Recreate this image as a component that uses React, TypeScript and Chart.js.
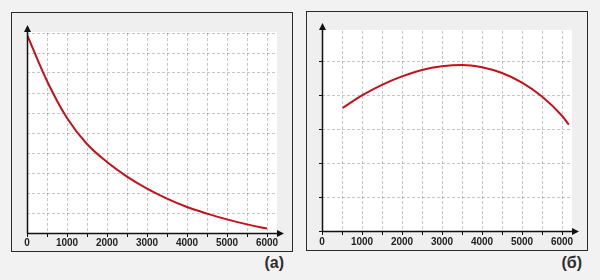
import React, { useEffect, useRef } from "react";
import { Chart, registerables } from "chart.js";

Chart.register(...registerables);

// ---- data ----
const X_MIN = 0;
const X_MAX = 6250;
const xTickValues = [0, 500, 1000, 1500, 2000, 2500, 3000, 3500, 4000, 4500, 5000, 5500, 6000];
const xTickLabels = ["0", "1000", "2000", "3000", "4000", "5000", "6000"];

const leftX = [0, 500, 1000, 1500, 2000, 2500, 3000, 3500, 4000, 4500, 5000, 5500, 6000];
const leftY = [9.92, 7.6, 5.75, 4.45, 3.55, 2.82, 2.22, 1.72, 1.3, 0.97, 0.68, 0.43, 0.22];
const leftYMax = 10;
const leftYTicks = [0, 1, 2, 3, 4, 5, 6, 7, 8, 9, 10];

const rightX = [520, 1000, 1500, 2000, 2500, 3000, 3500, 4000, 4500, 5000, 5500, 6000, 6170];
const rightY = [3.63, 4.0, 4.31, 4.56, 4.75, 4.86, 4.9, 4.83, 4.66, 4.38, 3.97, 3.4, 3.14];
const rightYMax = 5.9;
const rightYTicks = [0, 1, 2, 3, 4, 5];

const panelLabels = ["(а)", "(б)"];

const LINE_COLOR = "#c3121b";
const AXIS_COLOR = "#111111";
const GRID_COLOR = "rgba(0,0,0,0.22)";
const FONT = "'Liberation Sans', Arial, sans-serif";

const decorPlugin = {
  id: "decor",
  beforeDraw(chart: any) {
    const { ctx, chartArea: a } = chart;
    ctx.save();
    ctx.fillStyle = "#ffffff";
    ctx.fillRect(a.left, a.top - 1, a.right - a.left, a.bottom - a.top + 1);
    ctx.restore();
  },
  afterDraw(chart: any) {
    const { ctx, chartArea: a } = chart;
    const L = Math.round(a.left) + 0.5;
    const B = Math.round(a.bottom) + 0.5;
    const T = a.top;
    const R = a.right;
    ctx.save();
    ctx.strokeStyle = AXIS_COLOR;
    ctx.fillStyle = AXIS_COLOR;
    ctx.lineWidth = 1.5;
    ctx.beginPath();
    ctx.moveTo(L, B);
    ctx.lineTo(L, T - 3);
    ctx.moveTo(L, B);
    ctx.lineTo(R + 2, B);
    ctx.stroke();
    // y arrow
    ctx.beginPath();
    ctx.moveTo(L, T - 8);
    ctx.lineTo(L - 3.5, T - 1);
    ctx.lineTo(L + 3.5, T - 1);
    ctx.closePath();
    ctx.fill();
    // x arrow
    ctx.beginPath();
    ctx.moveTo(R + 7, B);
    ctx.lineTo(R, B - 3.5);
    ctx.lineTo(R, B + 3.5);
    ctx.closePath();
    ctx.fill();
    ctx.restore();
  },
};

function xLabel(value: any) {
  const v = Math.round(Number(value));
  const found = xTickLabels.find((l) => Number(l) === v);
  return found === undefined ? "" : found;
}

type PanelProps = {
  xs: number[];
  ys: number[];
  yMax: number;
  yTicks: number[];
  yTickMarks: boolean;
  xAxisHeight: number;
  topPad: number;
  labelPad: number;
};

function Panel({ xs, ys, yMax, yTicks, yTickMarks, xAxisHeight, topPad, labelPad }: PanelProps) {
  const ref = useRef<HTMLCanvasElement | null>(null);
  useEffect(() => {
    if (!ref.current) return;
    const chart = new Chart(ref.current, {
      type: "line",
      data: {
        datasets: [
          {
            data: xs.map((x, i) => ({ x, y: ys[i] })),
            borderColor: LINE_COLOR,
            borderWidth: 2,
            pointRadius: 0,
            fill: false,
            cubicInterpolationMode: "monotone",
          },
        ],
      },
      options: {
        animation: false,
        responsive: false,
        maintainAspectRatio: false,
        events: [],
        layout: { padding: { top: topPad, right: 15, left: 0, bottom: 0 } },
        plugins: { legend: { display: false }, tooltip: { enabled: false } },
        scales: {
          x: {
            type: "linear",
            min: X_MIN,
            max: X_MAX,
            afterBuildTicks: (s: any) => {
              s.ticks = xTickValues.map((v) => ({ value: v }));
            },
            afterFit: (s: any) => {
              s.height = xAxisHeight;
            },
            border: { display: false, dash: [3, 2] },
            grid: {
              color: GRID_COLOR,
              lineWidth: 1,
              drawTicks: true,
              tickLength: 4,
              tickColor: AXIS_COLOR,
              tickWidth: 1,
              tickBorderDash: [],
            },
            ticks: {
              autoSkip: false,
              maxRotation: 0,
              minRotation: 0,
              padding: labelPad,
              color: "#222",
              font: { family: FONT, size: 10, weight: "bold" },
              callback: xLabel,
            },
          },
          y: {
            type: "linear",
            min: 0,
            max: yMax,
            afterBuildTicks: (s: any) => {
              s.ticks = yTicks.map((v) => ({ value: v }));
            },
            afterFit: (s: any) => {
              s.width = 15;
            },
            border: { display: false, dash: [3, 2] },
            grid: {
              color: GRID_COLOR,
              lineWidth: 1,
              drawTicks: yTickMarks,
              tickLength: 3,
              tickColor: AXIS_COLOR,
              tickWidth: 1,
              tickBorderDash: [],
            },
            ticks: { display: false },
          },
        },
      } as any,
      plugins: [decorPlugin],
    });
    return () => chart.destroy();
  }, []);
  return <canvas ref={ref} width={280} height={238} style={{ display: "block" }} />;
}

const frameStyle = (left: number, top: number): React.CSSProperties => ({
  position: "absolute",
  left,
  top,
  width: 282,
  height: 240,
  boxSizing: "border-box",
  border: "1px solid #2a2a2a",
  background: "#efefef",
});

const labelStyle = (right: number): React.CSSProperties => ({
  position: "absolute",
  right,
  top: 254,
  fontFamily: FONT,
  fontWeight: "bold",
  fontSize: 16,
  lineHeight: "18px",
  color: "#2e2e2e",
});

export default function App() {
  return (
    <div
      style={{
        position: "fixed",
        left: 0,
        top: 0,
        width: 600,
        height: 280,
        background: "#f2f2f2",
        overflow: "hidden",
      }}
    >
      <div style={frameStyle(11, 12)}>
        <Panel xs={leftX} ys={leftY} yMax={leftYMax} yTicks={leftYTicks} yTickMarks={false} xAxisHeight={18} topPad={20} labelPad={0} />
      </div>
      <div style={frameStyle(306, 11)}>
        <Panel xs={rightX} ys={rightY} yMax={rightYMax} yTicks={rightYTicks} yTickMarks={true} xAxisHeight={19} topPad={19} labelPad={1} />
      </div>
      <div style={labelStyle(600 - 284)}>{panelLabels[0]}</div>
      <div style={labelStyle(600 - 582)}>{panelLabels[1]}</div>
    </div>
  );
}
